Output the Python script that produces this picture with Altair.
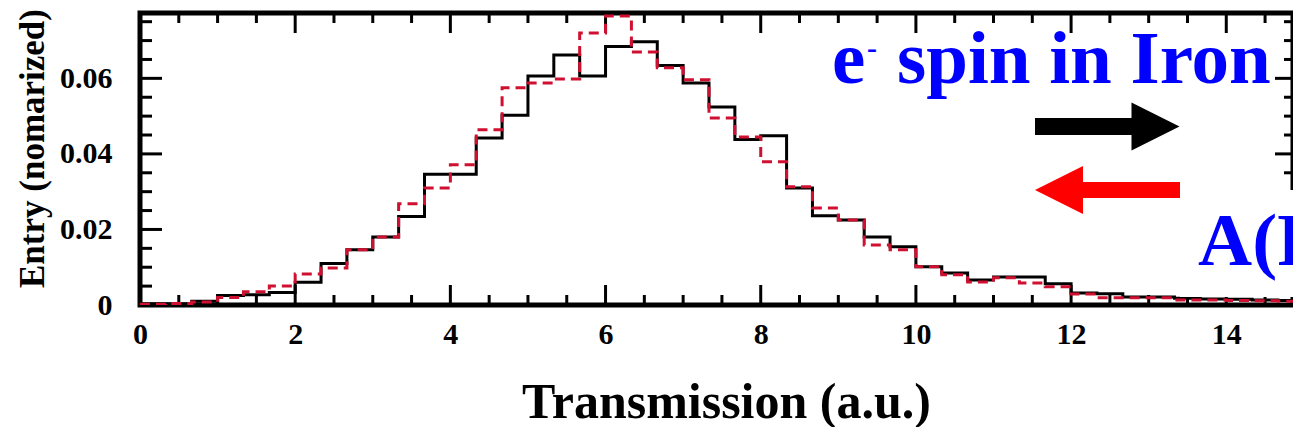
import altair as alt
import pandas as pd

# ---------------- data ----------------
# histogram bins of width 1/3 from 0 to 15 (45 bins, 46 edges)
bin_edges = [i / 3 for i in range(46)]

black_vals = [0.0003, 0.0003, 0.0010, 0.0025, 0.0027, 0.0033, 0.0060, 0.0110, 0.0146, 0.0180,
              0.0234, 0.0346, 0.0346, 0.0442, 0.0502, 0.0606, 0.0662, 0.0606, 0.0684, 0.0697,
              0.0634, 0.0588, 0.0524, 0.0438, 0.0448, 0.0310, 0.0236, 0.0225, 0.0180, 0.0154,
              0.0101, 0.0085, 0.0066, 0.0074, 0.0074, 0.0056, 0.0032, 0.0030, 0.0021, 0.0021,
              0.0018, 0.0016, 0.0015, 0.0013, 0.0012]

red_vals = [0.0002, 0.0004, 0.0008, 0.0020, 0.0035, 0.0050, 0.0082, 0.0098, 0.0146, 0.0180,
            0.0268, 0.0310, 0.0371, 0.0464, 0.0575, 0.0588, 0.0598, 0.0720, 0.0765, 0.0670,
            0.0628, 0.0596, 0.0495, 0.0445, 0.0379, 0.0313, 0.0257, 0.0225, 0.0159, 0.0146,
            0.0101, 0.0080, 0.0061, 0.0072, 0.0058, 0.0048, 0.0029, 0.0019, 0.0019, 0.0019,
            0.0013, 0.0013, 0.0012, 0.0011, 0.0010]

x_major = [0, 2, 4, 6, 8, 10, 12, 14]
x_minor = [0.5, 1, 1.5, 2.5, 3, 3.5, 4.5, 5, 5.5, 6.5, 7, 7.5, 8.5, 9, 9.5,
           10.5, 11, 11.5, 12.5, 13, 13.5, 14.5]
y_major = [0, 0.02, 0.04, 0.06]
y_minor = [0.005, 0.01, 0.015, 0.025, 0.03, 0.035, 0.045, 0.05, 0.055, 0.065, 0.07, 0.075]

x_title = "Transmission (a.u.)"
y_title = "Entry (nomarized)"
label_e = "e"
label_sup = "-"
label_spin = "spin in Iron"
label_a = "A(F"

# ---------------- layout ----------------
W, H = 1153, 292
FONT = "Liberation Serif"
BLUE = "#0000ff"
RED_LINE = "#d01030"
RED_ARROW = "#ff0000"

x_def = alt.X("x:Q", scale=alt.Scale(domain=[0, 14.86], nice=False, zero=False),
              axis=alt.Axis(values=x_major, format="d", title=x_title, labelFlush=False,
                            labelPadding=38, labelBaseline="alphabetic",
                            titleX=586, titleY=112, titleBaseline="alphabetic",
                            titleAlign="center", titleFontSize=50))
y_def = alt.Y("y:Q", scale=alt.Scale(domain=[0, 0.0773], nice=False, zero=True),
              axis=alt.Axis(values=y_major, title=y_title, labelFlush=False,
                            labelExpr="datum.value == 0 ? '0' : format(datum.value, '.2f')",
                            labelPadding=28, titleX=-97, titleY=135, titleAngle=270,
                            titleBaseline="alphabetic", titleAlign="center", titleFontSize=35))

one = pd.DataFrame({"k": [0]})

df_black = pd.DataFrame({"x": bin_edges, "y": black_vals + [black_vals[-1]]})
df_red = pd.DataFrame({"x": bin_edges, "y": red_vals + [red_vals[-1]]})

black_line = alt.Chart(df_black).mark_line(
    interpolate="step-after", color="black", strokeWidth=3, clip=True).encode(x=x_def, y=y_def)
red_line = alt.Chart(df_red).mark_line(
    interpolate="step-after", color=RED_LINE, strokeWidth=3, strokeDash=[10, 6],
    clip=True).encode(x=x_def, y=y_def)


def xticks(vals, length):
    d = pd.DataFrame({"x": vals})
    bottom = alt.Chart(d).mark_rule(color="black", strokeWidth=3).encode(
        x=x_def, y=alt.value(H), y2=alt.value(H - length))
    top = alt.Chart(d).mark_rule(color="black", strokeWidth=3).encode(
        x=x_def, y=alt.value(0), y2=alt.value(length))
    return [bottom, top]


def yticks(vals, length_left, length_right):
    d = pd.DataFrame({"y": vals})
    left = alt.Chart(d).mark_rule(color="black", strokeWidth=3).encode(
        y=y_def, x=alt.value(0), x2=alt.value(length_left))
    right = alt.Chart(d).mark_rule(color="black", strokeWidth=3).encode(
        y=y_def, x=alt.value(W), x2=alt.value(W - length_right))
    return [left, right]


ticks = xticks(x_major, 20) + xticks(x_minor, 10) + yticks(y_major, 22, 18) + yticks(y_minor, 12, 9)

white_box = alt.Chart(one).mark_rect(color="white").encode(
    x=alt.value(1040), x2=alt.value(W + 5), y=alt.value(177), y2=alt.value(284))

black_shaft = alt.Chart(one).mark_rect(color="black").encode(
    x=alt.value(895), x2=alt.value(993), y=alt.value(105), y2=alt.value(122))
black_head = alt.Chart(one).mark_point(
    shape="M -1 -1 L 1 0 L -1 1 Z", filled=True, opacity=1, color="black",
    size=2304, strokeWidth=0).encode(x=alt.value(1015.5), y=alt.value(113.5))

red_shaft = alt.Chart(one).mark_rect(color=RED_ARROW).encode(
    x=alt.value(942), x2=alt.value(1040), y=alt.value(169), y2=alt.value(185))
red_head = alt.Chart(one).mark_point(
    shape="M 1 -1 L -1 0 L 1 1 Z", filled=True, opacity=1, color=RED_ARROW,
    size=2304, strokeWidth=0).encode(x=alt.value(919), y=alt.value(177))


def label(text, x, y, size):
    return alt.Chart(one).mark_text(
        font=FONT, fontWeight="bold", fontSize=size, color=BLUE,
        align="left", baseline="alphabetic").encode(
        x=alt.value(x), y=alt.value(y), text=alt.value(text))


texts = [label(label_e, 692, 70, 75), label(label_sup, 727, 45, 30),
         label(label_spin, 757, 70, 75), label(label_a, 1058, 252, 75)]

chart = alt.layer(
    *ticks, black_line, red_line, white_box,
    black_shaft, black_head, red_shaft, red_head, *texts
).properties(
    width=W, height=H,
    padding={"left": 132, "top": 5, "right": 0, "bottom": 122},
    autosize=alt.AutoSizeParams(type="none"),
).configure_view(
    stroke="black", strokeWidth=5
).configure_axis(
    domain=False, ticks=False, tickSize=0, grid=False,
    labelFont=FONT, labelFontWeight="bold", labelFontSize=30, labelColor="black",
    titleFont=FONT, titleFontWeight="bold", titleColor="black"
)

chart.save("out.html", embed_options={"renderer": "svg", "actions": False})
